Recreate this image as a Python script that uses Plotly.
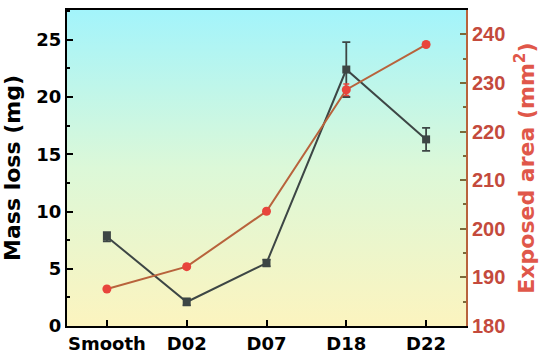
import plotly.graph_objects as go

samples = ["Smooth", "D02", "D07", "D18", "D22"]
mass_loss = [7.8, 2.1, 5.5, 22.4, 16.3]
mass_err = [0.4, 0.3, 0.3, 2.4, 1.0]
exposed_area = [187.6, 192.2, 203.6, 228.6, 237.9]
area_err = [0.5, 0.5, 0.5, 1.2, 0.5]

pos = list(range(len(samples)))

wide = "DejaVu Sans, sans-serif"
narrow = "Liberation Sans, Arial, sans-serif"
dark = "#3d4645"
red_pt = "#e8453c"
red_line = "#b8633c"
axis_red = "#c44a3c"

fig = go.Figure()

# gradient background (yellow at bottom to cyan at top)
fig.add_trace(go.Scatter(
    x=[-0.5, 4.5, 4.5, -0.5, -0.5], y=[0, 0, 27.6, 27.6, 0],
    mode="none", fill="toself", hoverinfo="skip", showlegend=False,
    fillgradient=dict(type="vertical",
                      colorscale=[[0, "#fcf4bf"], [0.5, "#dcf8d8"], [1, "#a3f4fb"]]),
))

fig.add_trace(go.Scatter(
    x=pos, y=mass_loss, mode="lines+markers",
    line=dict(color=dark, width=2),
    marker=dict(symbol="square", size=8, color=dark),
    error_y=dict(type="data", array=mass_err, color=dark, thickness=1.8, width=4),
    showlegend=False,
))

fig.add_trace(go.Scatter(
    x=pos, y=exposed_area, mode="lines+markers", yaxis="y2",
    line=dict(color=red_line, width=2),
    marker=dict(symbol="circle", size=9, color=red_pt),
    error_y=dict(type="data", array=area_err, color=red_pt, thickness=1.5, width=3),
    showlegend=False,
))

fig.update_layout(
    width=550, height=362,
    margin=dict(l=67, r=84, t=8, b=34),
    paper_bgcolor="white", plot_bgcolor="white",
    font=dict(family=wide, color="black"),
    xaxis=dict(
        range=[-0.5, 4.5], tickvals=pos, ticktext=samples,
        showline=True, linecolor="black", linewidth=2,
        mirror=True, ticks="inside", ticklen=6, tickwidth=2, tickcolor="black",
        tickfont=dict(size=18, family=wide, weight="bold"), showgrid=False, zeroline=False,
    ),
    yaxis=dict(
        range=[0, 27.6], tickvals=[0, 5, 10, 15, 20, 25],
        showline=True, linecolor="black", linewidth=2,
        ticks="inside", ticklen=6, tickwidth=2, tickcolor="black",
        minor=dict(dtick=2.5, ticks="inside", ticklen=3, tickcolor="black", tickwidth=1.5),
        tickfont=dict(size=18, family=wide, weight="bold"), showgrid=False, zeroline=False,
        title=dict(text="Mass loss (mg)", font=dict(size=22, family=wide, weight="bold"), standoff=11),
    ),
    yaxis2=dict(
        overlaying="y", side="right", range=[180, 245],
        tickvals=[180, 190, 200, 210, 220, 230, 240],
        showline=True, linecolor=red_line, linewidth=2,
        ticks="inside", ticklen=6, tickwidth=2, tickcolor="#7a6a3a",
        minor=dict(dtick=5, ticks="inside", ticklen=3, tickcolor="#7a6a3a", tickwidth=1.5),
        tickfont=dict(size=20, family=narrow, weight="bold", color=axis_red),
        showgrid=False, zeroline=False,
        title=dict(text="Exposed area (mm<sup>2</sup>)",
                   font=dict(size=22, family=wide, weight="bold", color="#e0574a"), standoff=14),
    ),
)

# page has a default 8px body margin; drop it so the figure fills the window
fig.write_html("out.html", config={"displayModeBar": False},
               post_script="document.body.style.margin='0';")
